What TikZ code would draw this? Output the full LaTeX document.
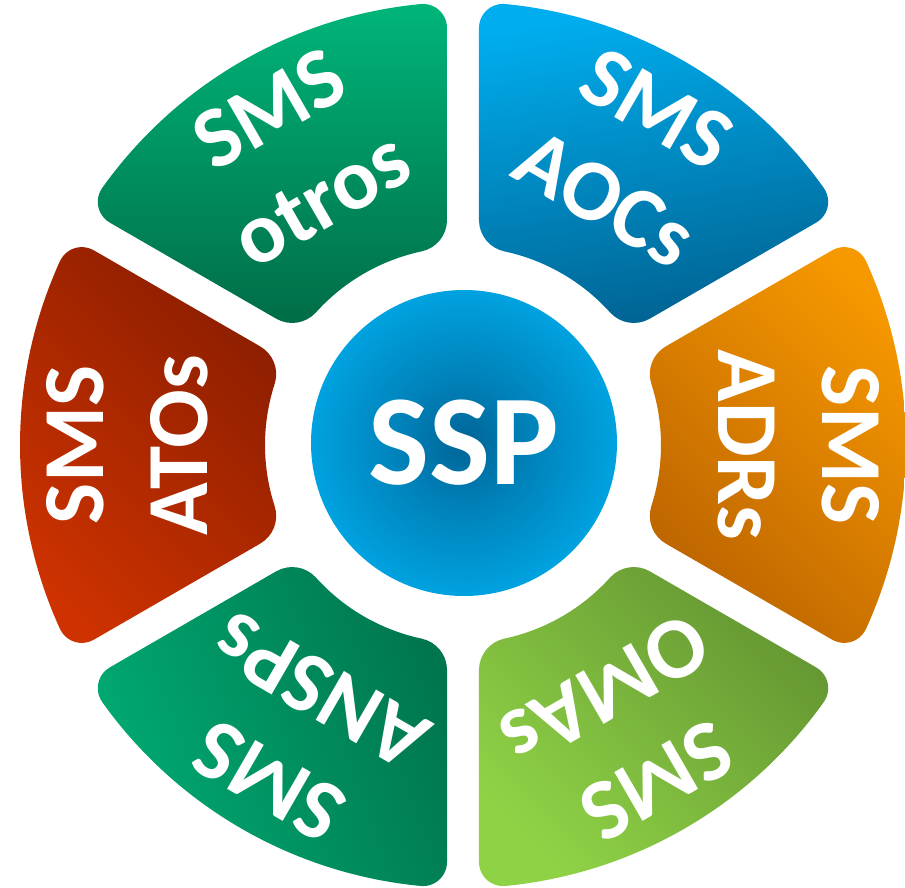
\documentclass[tikz,border=0pt]{standalone}
\usepackage{fontspec}
\setmainfont{Carlito}
\definecolor{otrosA}{RGB}{0,181,122}
\definecolor{otrosB}{RGB}{0,108,70}
\definecolor{aocsA}{RGB}{0,174,239}
\definecolor{aocsB}{RGB}{0,98,145}
\definecolor{adrsA}{RGB}{246,152,0}
\definecolor{adrsB}{RGB}{188,100,0}
\definecolor{omasA}{RGB}{143,210,70}
\definecolor{omasB}{RGB}{100,150,50}
\definecolor{anspsA}{RGB}{0,170,115}
\definecolor{anspsB}{RGB}{0,118,78}
\definecolor{atosA}{RGB}{205,50,0}
\definecolor{atosB}{RGB}{140,30,0}
\definecolor{sspD}{RGB}{0,100,150}
\definecolor{sspL}{RGB}{0,162,224}
\pgfdeclareradialshading{sspshade}{\pgfpointorigin}{%
  color(0bp)=(sspD); color(10bp)=(sspD!55!sspL); color(25bp)=(sspL); color(50bp)=(sspL)}
% ring geometry (1 unit = 1 px of the reference)
\pgfmathsetmacro{\sgR}{443}   % outer radius
\pgfmathsetmacro{\sgr}{198}   % inner radius
\pgfmathsetmacro{\sgg}{16}    % half gap
\pgfmathsetmacro{\sgro}{24}   % outer corner radius
\pgfmathsetmacro{\sgri}{32}   % inner corner radius
\pgfmathsetmacro{\sgal}{asin((\sgg+\sgro)/(\sgR-\sgro))}
\pgfmathsetmacro{\sgto}{(\sgR-\sgro)*cos(\sgal)}
\pgfmathsetmacro{\sgbe}{asin((\sgg+\sgri)/(\sgr+\sgri))}
\pgfmathsetmacro{\sgti}{(\sgr+\sgri)*cos(\sgbe)}
\pgfmathsetmacro{\sgd}{\sgto-\sgti}
\newcommand{\ringseg}[2]{%
  \shade[#2] ([shift={(#1+60:\sgg)}]#1-30:\sgti) -- ++(#1-30:\sgd)
    arc[start angle=#1-120, end angle=#1-30+\sgal, radius=\sgro]
    arc[start angle=#1-30+\sgal, end angle=#1+30-\sgal, radius=\sgR]
    arc[start angle=#1+30-\sgal, end angle=#1+120, radius=\sgro]
    -- ++(#1-150:\sgd)
    arc[start angle=#1+120, end angle=#1+210-\sgbe, radius=\sgri]
    arc[start angle=#1+30-\sgbe, end angle=#1-30+\sgbe, radius=\sgr]
    arc[start angle=#1+150+\sgbe, end angle=#1+240, radius=\sgri]
    -- cycle;}
\tikzset{
  seglabel/.style={text=white, align=center, inner sep=0pt,
    font=\fontsize{87}{104}\selectfont\bfseries},
  centrebox/.style={circle, minimum size=306pt, inner sep=0pt, shading=sspshade,
    text=white, font=\fontsize{129}{130}\selectfont\bfseries}
}
\begin{document}
\begin{tikzpicture}[x=1pt, y=1pt]
\useasboundingbox (-463,-442) rectangle (442,445);
\ringseg{120}{top color=otrosA, bottom color=otrosB, shading angle=0}
\ringseg{60}{top color=aocsA, bottom color=aocsB, shading angle=10}
\ringseg{0}{top color=adrsA, bottom color=adrsB, shading angle=-45}
\ringseg{-60}{top color=omasA, bottom color=omasB, shading angle=135}
\ringseg{-120}{top color=anspsA, bottom color=anspsB, shading angle=110}
\ringseg{180}{top color=atosA, bottom color=atosB, shading angle=135}
\node[seglabel, rotate=30] (otros) at (120:336) {SMS\\otros};
\node[seglabel, rotate=-30] (aocs) at (60:336) {SMS\\AOCs};
\node[seglabel, rotate=-90] (adrs) at (0:336) {SMS\\ADRs};
\node[seglabel, rotate=-150] (omas) at (-60:336) {SMS\\OMAs};
\node[seglabel, rotate=150] (ansps) at (-120:336) {SMS\\ANSPs};
\node[seglabel, rotate=90] (atos) at (180:336) {SMS\\ATOs};
\node[centrebox] (ssp) at (1,2) {SSP};
\end{tikzpicture}
\end{document}
